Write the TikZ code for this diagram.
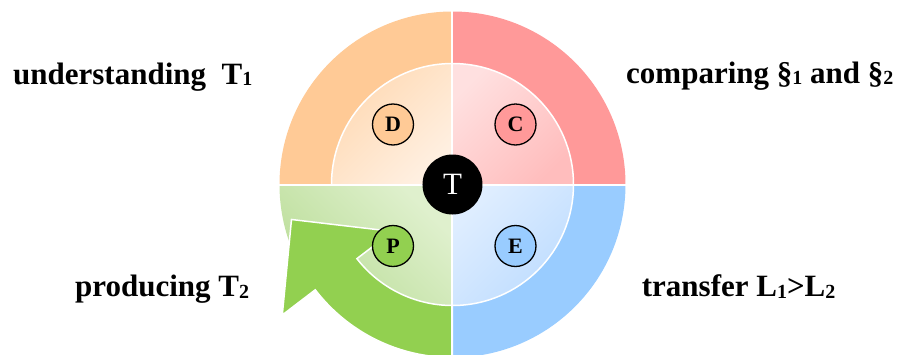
\documentclass[tikz,border=0pt]{standalone}
\usepackage{fontspec}
\setmainfont{Liberation Serif}
\definecolor{ringO}{HTML}{FFCA96}
\definecolor{ringR}{HTML}{FF9999}
\definecolor{ringB}{HTML}{99CCFF}
\definecolor{arrowG}{HTML}{92D050}
\definecolor{Ddark}{HTML}{FFD9B3}
\definecolor{Dlight}{HTML}{FFF0E2}
\definecolor{Clight}{HTML}{FFE0E0}
\definecolor{Cdark}{HTML}{FFBDBD}
\definecolor{Elight}{HTML}{E0EEFF}
\definecolor{Edark}{HTML}{BDDCFF}
\definecolor{Plight}{HTML}{DFF0CD}
\definecolor{Pdark}{HTML}{B2D98C}
\newcommand\subd[1]{\raisebox{-1.5pt}{\fontsize{20}{20}\selectfont #1}}
\tikzset{
  lbl/.style={circle, draw=black, line width=1.3pt, minimum size=41pt, inner sep=0pt,
              font=\fontsize{22}{22}\selectfont\bfseries},
  caption/.style={anchor=base west, inner sep=0pt, font=\fontsize{31}{31}\selectfont\bfseries},
  divider/.style={white, line width=2pt},
  innerline/.style={white, line width=1.5pt}
}
\begin{document}
\begin{tikzpicture}[x=1pt,y=1pt]
\useasboundingbox (-452.5,-169.5) rectangle (444.5,184.5);
\clip (-452.5,-169.5) rectangle (444.5,184.5);
% outer ring sectors
\fill[ringO] (0,0) -- (180:173) arc[start angle=180,end angle=90,radius=173] -- cycle;
\fill[ringR] (0,0) -- (90:173) arc[start angle=90,end angle=0,radius=173] -- cycle;
\fill[ringB] (0,0) -- (0:173) arc[start angle=0,end angle=-90,radius=173] -- cycle;
% inner gradient sectors
\shade[top color=Ddark,bottom color=Dlight,shading angle=45]
  (0,0) -- (180:121) arc[start angle=180,end angle=90,radius=121] -- cycle;
\shade[top color=Clight,bottom color=Cdark,shading angle=45]
  (0,0) -- (90:121) arc[start angle=90,end angle=0,radius=121] -- cycle;
\shade[top color=Elight,bottom color=Edark,shading angle=45]
  (0,0) -- (0:121) arc[start angle=0,end angle=-90,radius=121] -- cycle;
\shade[top color=Plight,bottom color=Pdark,shading angle=-45]
  (0,0) -- (180:173) arc[start angle=180,end angle=270,radius=173] -- cycle;
% green circular arrow
\draw[fill=arrowG, draw=white, line width=1.5pt, line join=miter]
  (-60,-46.9) -- (-161,-35) -- (-170.2,-130.5) -- (217.5:173)
  arc[start angle=217.5,end angle=270,radius=173] -- (270:121)
  arc[start angle=270,end angle=217.8,radius=121] -- cycle;
% white lines
\draw[innerline] (-90:121) arc[start angle=-90,end angle=180,radius=121];
\draw[divider] (-173,0) -- (173,0);
\draw[divider] (0,175) -- (0,-175);
% small circles
\node[lbl, fill=ringO] (D) at (-59.5,60) {D};
\node[lbl, fill=ringR] (C) at (63,60) {C};
\node[lbl, fill=ringB] (E) at (63,-61.5) {E};
\node[lbl, fill=arrowG] (P) at (-59.5,-61.5) {P};
% centre
\node[circle, fill=black, minimum size=60pt, inner sep=0pt, text=white,
      font=\fontsize{31}{31}\selectfont] (T) at (0,0) {T};
% captions
\node[caption] (u) at (-439.5,100.2) {understanding\ \ T\subd{1}};
\node[caption] (c) at (173.5,101.2) {comparing §\subd{1} and §\subd{2}};
\node[caption] (p) at (-377.5,-112.2) {producing T\subd{2}};
\node[caption] (t) at (189.2,-112.2) {transfer L\subd{1}>L\subd{2}};
\end{tikzpicture}
\end{document}
